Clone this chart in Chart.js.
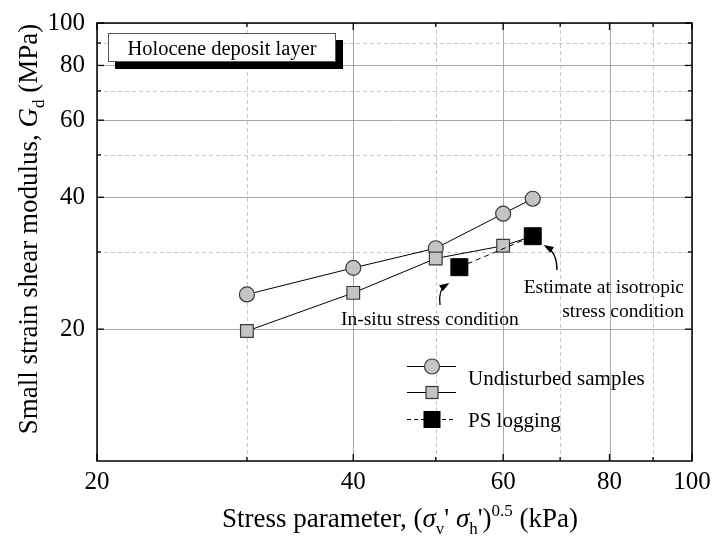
<!DOCTYPE html>
<html><head><meta charset="utf-8">
<script src="https://cdn.jsdelivr.net/npm/chart.js@4.4.1/dist/chart.umd.min.js"></script>
<style>html,body{margin:0;padding:0;background:#fff}#wrap{width:713px;height:542px}</style>
</head><body><div id="wrap"><canvas id="c" width="713" height="542"></canvas></div>
<script>
// ---- data ----
const xTicks = [20, 40, 60, 80, 100];
const yTicks = [20, 40, 60, 80, 100];
const xMinor = [30, 50, 70, 90];
const yMinor = [30, 50, 70, 90];
const circleX = [30, 40, 50, 60, 65];
const circleY = [24.0, 27.6, 30.6, 36.7, 39.7];
const squareX = [30, 40, 50, 60, 65];
const squareY = [19.8, 24.2, 29.0, 31.0, 32.6];
const psX = [53.3, 65];
const psY = [27.7, 32.6];
const legendLabels = ['Undisturbed samples', 'PS logging'];
const boxLabel = 'Holocene deposit layer';
const noteInSitu = 'In-situ stress condition';
const noteIso = ['Estimate at isotropic', 'stress condition'];

function pts(xs, ys) { return xs.map((v, i) => ({ x: v, y: ys[i] })); }
const SERIF = "'Liberation Serif', 'Times New Roman', serif";

const gridPlugin = {
  id: 'gridPlugin',
  beforeDatasetsDraw(chart) {
    const { ctx, chartArea: a, scales: { x, y } } = chart;
    ctx.save();
    ctx.lineWidth = 1;
    ctx.setLineDash([4, 3]);
    ctx.strokeStyle = '#c8c8c8';
    xMinor.forEach(v => { const p = Math.round(x.getPixelForValue(v)) + 0.5; ctx.beginPath(); ctx.moveTo(p, a.top); ctx.lineTo(p, a.bottom); ctx.stroke(); });
    yMinor.forEach(v => { const p = Math.round(y.getPixelForValue(v)) + 0.5; ctx.beginPath(); ctx.moveTo(a.left, p); ctx.lineTo(a.right, p); ctx.stroke(); });
    ctx.setLineDash([]);
    ctx.strokeStyle = '#a8a8a8';
    xTicks.forEach(v => { const p = Math.round(x.getPixelForValue(v)) + 0.5; ctx.beginPath(); ctx.moveTo(p, a.top); ctx.lineTo(p, a.bottom); ctx.stroke(); });
    yTicks.forEach(v => { const p = Math.round(y.getPixelForValue(v)) + 0.5; ctx.beginPath(); ctx.moveTo(a.left, p); ctx.lineTo(a.right, p); ctx.stroke(); });
    // holocene box
    ctx.fillStyle = '#000';
    ctx.fillRect(115, 40, 228, 29);
    ctx.fillStyle = '#fff';
    ctx.fillRect(108, 33, 228, 29);
    ctx.strokeStyle = '#555';
    ctx.lineWidth = 1;
    ctx.strokeRect(108.5, 33.5, 227, 28);
    ctx.fillStyle = '#000';
    ctx.font = '20.5px ' + SERIF;
    ctx.textAlign = 'center';
    ctx.textBaseline = 'alphabetic';
    ctx.fillText(boxLabel, 222, 55);
    ctx.restore();
  }
};

function runs(ctx, list, cx, cy) {
  let w = 0;
  list.forEach(r => { ctx.font = r.f; w += ctx.measureText(r.t).width; });
  let xx = cx - w / 2;
  ctx.textAlign = 'left';
  ctx.textBaseline = 'alphabetic';
  list.forEach(r => { ctx.font = r.f; ctx.fillText(r.t, xx, cy + (r.dy || 0)); xx += ctx.measureText(r.t).width; });
}

function arrow(ctx, x0, y0, cx, cy, x1, y1) {
  ctx.beginPath(); ctx.moveTo(x0, y0); ctx.quadraticCurveTo(cx, cy, x1, y1); ctx.stroke();
  const ang = Math.atan2(y1 - cy, x1 - cx);
  const L = 10, W = 3.5;
  const tx = x1 + Math.cos(ang) * 4, ty = y1 + Math.sin(ang) * 4;
  const bx = tx - Math.cos(ang) * L, by = ty - Math.sin(ang) * L;
  ctx.beginPath();
  ctx.moveTo(tx, ty);
  ctx.lineTo(bx + Math.sin(ang) * W, by - Math.cos(ang) * W);
  ctx.lineTo(bx - Math.sin(ang) * W, by + Math.cos(ang) * W);
  ctx.closePath(); ctx.fill();
}

const decorPlugin = {
  id: 'decorPlugin',
  afterDraw(chart) {
    const { ctx, chartArea: a, scales: { x, y } } = chart;
    ctx.save();
    // frame
    ctx.strokeStyle = '#000';
    ctx.lineWidth = 1.5;
    ctx.strokeRect(a.left, a.top, a.right - a.left, a.bottom - a.top);
    // inward ticks
    ctx.lineWidth = 1.3;
    const tk = (vals, len) => {
      vals.forEach(v => {
        const px = x.getPixelForValue(v);
        ctx.beginPath(); ctx.moveTo(px, a.bottom); ctx.lineTo(px, a.bottom - len); ctx.stroke();
        ctx.beginPath(); ctx.moveTo(px, a.top); ctx.lineTo(px, a.top + len); ctx.stroke();
      });
    };
    const tky = (vals, len) => {
      vals.forEach(v => {
        const py = y.getPixelForValue(v);
        ctx.beginPath(); ctx.moveTo(a.left, py); ctx.lineTo(a.left + len, py); ctx.stroke();
        ctx.beginPath(); ctx.moveTo(a.right, py); ctx.lineTo(a.right - len, py); ctx.stroke();
      });
    };
    tk(xTicks, 7); tk(xMinor, 4); tky(yTicks, 7); tky(yMinor, 4);

    ctx.fillStyle = '#000';
    ctx.strokeStyle = '#000';
    // x title
    const N = '27px ' + SERIF, I = 'italic 27px ' + SERIF, S = '17px ' + SERIF;
    runs(ctx, [
      { t: 'Stress parameter, (', f: N },
      { t: 'σ', f: I }, { t: 'v', f: S, dy: 7 }, { t: "' ", f: N },
      { t: 'σ', f: I }, { t: 'h', f: S, dy: 7 }, { t: "')", f: N },
      { t: '0.5', f: S, dy: -11 }, { t: ' (kPa)', f: N }
    ], 400, 527);
    // y title
    ctx.save();
    ctx.translate(37, 229);
    ctx.rotate(-Math.PI / 2);
    runs(ctx, [
      { t: 'Small strain shear modulus, ', f: N },
      { t: 'G', f: I }, { t: 'd', f: S, dy: 7 }, { t: ' (MPa)', f: N }
    ], 0, 0);
    ctx.restore();

    // annotations
    ctx.font = '19.5px ' + SERIF;
    ctx.textAlign = 'left';
    ctx.fillText(noteInSitu, 341, 325);
    ctx.textAlign = 'right';
    ctx.fillText(noteIso[0], 684, 293);
    ctx.fillText(noteIso[1], 684, 317);
    ctx.lineWidth = 1.3;
    arrow(ctx, 440, 305, 438, 290, 446, 285);
    arrow(ctx, 557, 270, 557, 253, 547, 247);

    // legend
    ctx.lineWidth = 1;
    ctx.strokeStyle = '#000';
    ctx.beginPath(); ctx.moveTo(407, 366.5); ctx.lineTo(456, 366.5); ctx.stroke();
    ctx.beginPath(); ctx.moveTo(407, 392.5); ctx.lineTo(456, 392.5); ctx.stroke();
    ctx.setLineDash([4, 3]);
    ctx.beginPath(); ctx.moveTo(407, 419.5); ctx.lineTo(456, 419.5); ctx.stroke();
    ctx.setLineDash([]);
    ctx.fillStyle = '#c4c4c4'; ctx.strokeStyle = '#3a3a3a'; ctx.lineWidth = 1.2;
    ctx.beginPath(); ctx.arc(432, 366.5, 7.5, 0, Math.PI * 2); ctx.fill(); ctx.stroke();
    ctx.fillRect(426, 386.5, 12, 12); ctx.strokeRect(426, 386.5, 12, 12);
    ctx.fillStyle = '#000';
    ctx.fillRect(423.5, 411, 17, 17);
    ctx.font = '21px ' + SERIF;
    ctx.textAlign = 'left';
    ctx.fillText(legendLabels[0], 468, 385);
    ctx.fillText(legendLabels[1], 468, 427);
    ctx.restore();
  }
};

new Chart(document.getElementById('c'), {
  type: 'scatter',
  data: {
    datasets: [
      { label: 'Undisturbed samples (circle)', data: pts(circleX, circleY), showLine: true, borderColor: '#000', borderWidth: 1,
        pointStyle: 'circle', pointRadius: 7.5, pointBackgroundColor: '#c4c4c4', pointBorderColor: '#3a3a3a', pointBorderWidth: 1.2, order: 3 },
      { label: 'Undisturbed samples (square)', data: pts(squareX, squareY), showLine: true, borderColor: '#000', borderWidth: 1,
        pointStyle: 'rect', pointRadius: 9, pointBackgroundColor: '#c4c4c4', pointBorderColor: '#3a3a3a', pointBorderWidth: 1.2, order: 2 },
      { label: 'PS logging', data: pts(psX, psY), showLine: true, borderColor: '#000', borderWidth: 1, borderDash: [5, 4],
        pointStyle: 'rect', pointRadius: 12, pointBackgroundColor: '#000', pointBorderColor: '#000', pointBorderWidth: 1, order: 1 }
    ]
  },
  options: {
    responsive: false, animation: false, devicePixelRatio: 1, events: [],
    layout: { padding: { left: 0, right: 21, top: 23, bottom: 0 } },
    plugins: { legend: { display: false }, tooltip: { enabled: false } },
    scales: {
      x: {
        type: 'logarithmic', min: 20, max: 100,
        afterFit(s) { s.height = 81; s.paddingLeft = 0; s.paddingRight = 0; },
        afterBuildTicks(s) { s.ticks = xTicks.map(v => ({ value: v })); },
        ticks: { callback: v => String(v), font: { family: SERIF, size: 25 }, color: '#000', padding: 6, autoSkip: false, maxRotation: 0 },
        grid: { display: false, drawTicks: false }, border: { display: false }
      },
      y: {
        type: 'logarithmic', min: 10, max: 100,
        afterFit(s) { s.width = 97; s.paddingTop = 0; s.paddingBottom = 0; },
        afterBuildTicks(s) { s.ticks = yTicks.map(v => ({ value: v })); },
        ticks: { callback: v => String(v), font: { family: SERIF, size: 25 }, color: '#000', padding: 12, autoSkip: false },
        grid: { display: false, drawTicks: false }, border: { display: false }
      }
    }
  },
  plugins: [gridPlugin, decorPlugin]
});
</script>
</body></html>
